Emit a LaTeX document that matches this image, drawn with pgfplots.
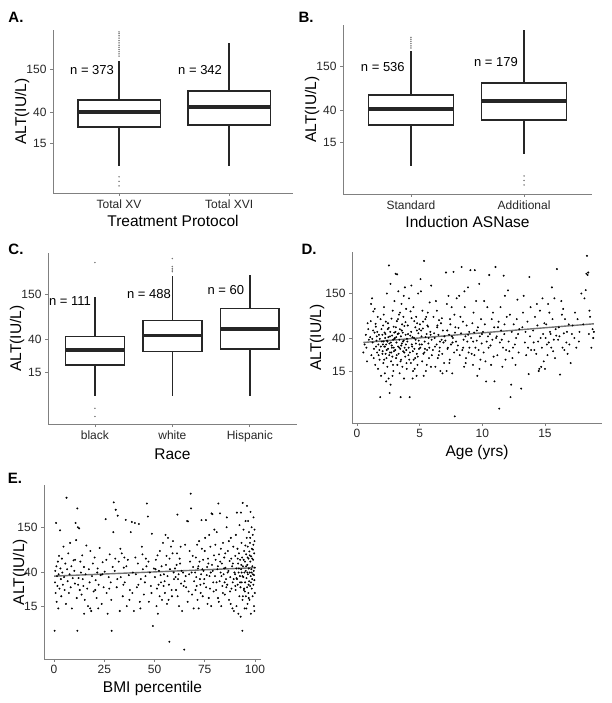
\documentclass[border=0pt]{standalone}
\usepackage{fontspec}
\setmainfont{Liberation Sans}
\usepackage{pgfplots}
\pgfplotsset{compat=1.18}
\usepgfplotslibrary{statistics}
\begin{document}
\begin{tikzpicture}
\useasboundingbox (0,0) rectangle (611pt,-703pt);
% ---------- A (y in ln ALT) ----------
\begin{axis}[scale only axis, anchor=south west, at={(53pt,-193pt)}, width=240pt, height=163pt,
  axis x line=bottom, axis y line=left,
  axis line style={-, draw=black!50, line width=0.9pt},
  ymin=1.16315, ymax=6.24416, ytick={2.70805,3.68888,5.01064}, yticklabels={15,40,150},
  tick style={draw=black!50, line width=0.8pt}, tick align=outside, major tick length=3pt,
  tick label style={font=\fontsize{12}{14}\selectfont, text=black!85},
  label style={font=\fontsize{15.5}{18}\selectfont},
  ylabel style={at={([xshift=-31pt]axis description cs:0,0.5)}, anchor=center},
  xmin=0.4, xmax=2.58, xtick={1,2}, xticklabels={Total XV, Total XVI},
  xlabel={Treatment Protocol}, ylabel={ALT(IU/L)},
  boxplot/draw direction=y,
  boxplot/every median/.style={line width=3.6pt}]
\addplot[draw=black!85, line width=1.6pt, fill=white, mark=*, mark size=0.6pt,
  mark options={draw=black!55, fill=black!55, line width=0.2pt},
  boxplot prepared={draw position=1, lower whisker=2.015, lower quartile=3.219, median=3.689, upper quartile=4.060, upper whisker=5.283, box extend=0.75, whisker extend=0}]
  table[row sep=\\, y index=0] {data\\ 5.429\\ 5.501\\ 5.568\\ 5.635\\ 5.704\\ 5.768\\ 5.843\\ 5.914\\ 5.991\\ 6.064\\ 6.131\\ 6.184\\ 1.668\\ 1.526\\ 1.386\\};
\addplot[draw=black!85, line width=1.6pt, fill=white, mark=*, mark size=0.6pt,
  boxplot prepared={draw position=2, lower whisker=2.015, lower quartile=3.285, median=3.846, upper quartile=4.344, upper whisker=5.838, box extend=0.75, whisker extend=0}]
  coordinates {};
\node[font=\fontsize{13}{15}\selectfont] at (axis cs:0.755,4.997) {n = 373};
\node[font=\fontsize{13}{15}\selectfont] at (axis cs:1.736,4.997) {n = 342};
\end{axis}
% ---------- B ----------
\begin{axis}[scale only axis, anchor=south west, at={(343pt,-194pt)}, width=249pt, height=169pt,
  axis x line=bottom, axis y line=left,
  axis line style={-, draw=black!50, line width=0.9pt},
  ymin=1.16315, ymax=6.24416, ytick={2.70805,3.68888,5.01064}, yticklabels={15,40,150},
  tick style={draw=black!50, line width=0.8pt}, tick align=outside, major tick length=3pt,
  tick label style={font=\fontsize{12}{14}\selectfont, text=black!85},
  label style={font=\fontsize{15.5}{18}\selectfont},
  ylabel style={at={([xshift=-31pt]axis description cs:0,0.5)}, anchor=center},
  xmin=0.4, xmax=2.6, xtick={1,2}, xticklabels={Standard, Additional},
  xlabel={Induction ASNase}, ylabel={ALT(IU/L)},
  boxplot/draw direction=y,
  boxplot/every median/.style={line width=3.6pt}]
\addplot[draw=black!85, line width=1.6pt, fill=white, mark=*, mark size=0.6pt,
  mark options={draw=black!55, fill=black!55, line width=0.2pt},
  boxplot prepared={draw position=1, lower whisker=2.015, lower quartile=3.239, median=3.718, upper quartile=4.138, upper whisker=5.455, box extend=0.75, whisker extend=0}]
  table[row sep=\\, y index=0] {data\\ 5.553\\ 5.617\\ 5.687\\ 5.753\\ 5.814\\ 5.872\\};
\addplot[draw=black!85, line width=1.6pt, fill=white, mark=*, mark size=0.6pt,
  mark options={draw=black!55, fill=black!55, line width=0.2pt},
  boxplot prepared={draw position=2, lower whisker=2.370, lower quartile=3.391, median=3.951, upper quartile=4.500, upper whisker=6.080, box extend=0.75, whisker extend=0}]
  table[row sep=\\, y index=0] {data\\ 1.705\\ 1.569\\ 1.435\\};
\node[font=\fontsize{13}{15}\selectfont] at (axis cs:0.752,4.977) {n = 536};
\node[font=\fontsize{13}{15}\selectfont] at (axis cs:1.752,5.124) {n = 179};
\end{axis}
% ---------- C ----------
\begin{axis}[scale only axis, anchor=south west, at={(48pt,-424pt)}, width=249pt, height=171pt,
  axis x line=bottom, axis y line=left,
  axis line style={-, draw=black!50, line width=0.9pt},
  ymin=1.16315, ymax=6.24416, ytick={2.70805,3.68888,5.01064}, yticklabels={15,40,150},
  tick style={draw=black!50, line width=0.8pt}, tick align=outside, major tick length=3pt,
  tick label style={font=\fontsize{12}{14}\selectfont, text=black!85},
  label style={font=\fontsize{15.5}{18}\selectfont},
  ylabel style={at={([xshift=-31pt]axis description cs:0,0.5)}, anchor=center},
  xmin=0.394, xmax=3.61, xtick={1,2,3}, xticklabels={black, white, Hispanic},
  xlabel={Race}, ylabel={ALT(IU/L)},
  boxplot/draw direction=y,
  boxplot/every median/.style={line width=3.6pt}]
\addplot[draw=black!85, line width=1.6pt, fill=white, mark=*, mark size=0.6pt,
  mark options={draw=black!55, fill=black!55, line width=0.2pt},
  boxplot prepared={draw position=1, lower whisker=2.001, lower quartile=2.912, median=3.367, upper quartile=3.759, upper whisker=4.934, box extend=0.76, whisker extend=0}]
  table[row sep=\\, y index=0] {data\\ 5.961\\ 1.629\\ 1.386\\};
\addplot[draw=black!85, line width=1.6pt, fill=white, mark=*, mark size=0.6pt,
  mark options={draw=black!55, fill=black!55, line width=0.2pt},
  boxplot prepared={draw position=2, lower whisker=2.001, lower quartile=3.321, median=3.789, upper quartile=4.234, upper whisker=5.553, box extend=0.76, whisker extend=0}]
  table[row sep=\\, y index=0] {data\\ 5.690\\ 5.737\\ 5.784\\ 5.843\\ 6.080\\};
\addplot[draw=black!85, line width=1.6pt, fill=white, mark=*, mark size=0.6pt,
  boxplot prepared={draw position=3, lower whisker=2.001, lower quartile=3.391, median=3.989, upper quartile=4.595, upper whisker=5.583, box extend=0.76, whisker extend=0}]
  coordinates {};
\node[font=\fontsize{13}{15}\selectfont] at (axis cs:0.677,4.804) {n = 111};
\node[font=\fontsize{13}{15}\selectfont] at (axis cs:1.697,5.037) {n = 488};
\node[font=\fontsize{13}{15}\selectfont] at (axis cs:2.69,5.136) {n = 60};
\end{axis}
% ---------- D ----------
\begin{axis}[scale only axis, anchor=south west, at={(352pt,-423pt)}, width=250pt, height=171pt,
  axis x line=bottom, axis y line=left,
  axis line style={-, draw=black!50, line width=0.9pt},
  ymode=log, ymin=3.2, ymax=515, ytick={15,40,150}, yticklabels={15,40,150}, yminorticks=false,
  tick style={draw=black!50, line width=0.8pt}, tick align=outside, major tick length=3pt,
  tick label style={font=\fontsize{12}{14}\selectfont, text=black!85},
  label style={font=\fontsize{15.5}{18}\selectfont},
  ylabel style={at={([xshift=-35pt]axis description cs:0,0.5)}, anchor=center},
  /pgf/number format/assume math mode=true,
  xmin=-0.4, xmax=19.55, xtick={0,5,10,15},
  xlabel={Age (yrs)}, ylabel={ALT(IU/L)}]
\addplot[only marks, mark=*, mark size=0.75pt, draw=black, fill=black] coordinates {
(0.5,26) (0.6,33) (0.7,44) (0.8,20) (0.9,52) (0.95,38) (0.75,30) (0.85,62)
(1.05,41) (1.1,66) (1.15,24) (1.2,130) (1.25,35) (1.3,88) (1.35,29) (1.4,47) (1.45,18) (1.5,56) (1.55,37) (1.6,26) (1.65,75) (1.7,33) (1.75,44) (1.8,21) (1.85,6.9) (1.9,31) (1.95,52) (1.12,110) (1.22,39) (1.33,22) (1.48,61) (1.58,42) (1.68,16) (1.78,28) (1.88,70) (1.98,36) (1.42,95) (1.62,48) (1.72,24) (1.82,39) (1.92,13) (1.52,31) (1.28,50)
(2.02,44) (2.05,27) (2.08,58) (2.1,19) (2.12,36) (2.15,100) (2.18,31) (2.2,47) (2.22,14) (2.25,40) (2.28,25) (2.3,65) (2.32,33) (2.35,22) (2.38,150) (2.4,37) (2.42,17) (2.45,52) (2.48,29) (2.5,41) (2.52,12) (2.55,345) (2.58,34) (2.6,7.8) (2.62,26) (2.65,48) (2.68,10) (2.7,35) (2.72,20) (2.75,71) (2.78,30) (2.8,43) (2.82,23) (2.85,90) (2.88,38) (2.9,15) (2.92,56) (2.95,27) (2.98,39) (2.07,33) (2.17,21) (2.27,45) (2.37,28) (2.47,62) (2.57,24) (2.67,200) (2.77,32) (2.87,18) (2.97,47) (2.13,80) (2.33,11) (2.53,54) (2.73,26) (2.93,30) (2.43,36) (2.63,42) (2.83,13) (2.23,31) (2.03,25) (2.99,120)
(3.02,40) (3.05,28) (3.08,270) (3.1,55) (3.12,22) (3.15,35) (3.18,66) (3.2,265) (3.22,18) (3.25,45) (3.28,31) (3.3,160) (3.32,25) (3.35,80) (3.38,38) (3.4,14) (3.42,52) (3.45,29) (3.48,6.9) (3.5,42) (3.52,21) (3.55,110) (3.58,34) (3.6,60) (3.62,17) (3.65,47) (3.68,27) (3.7,75) (3.72,37) (3.75,12) (3.78,57) (3.8,30) (3.82,180) (3.85,23) (3.88,44) (3.9,33) (3.92,95) (3.95,19) (3.98,39) (3.07,48) (3.17,24) (3.27,70) (3.37,30) (3.47,20) (3.57,50) (3.67,36) (3.77,26) (3.87,64) (3.97,16) (3.13,41) (3.33,46) (3.53,32) (3.73,140) (3.93,28) (3.43,85)
(4.02,36) (4.05,58) (4.1,24) (4.15,130) (4.2,6.9) (4.25,43) (4.3,19) (4.35,72) (4.4,31) (4.45,27) (4.5,100) (4.55,40) (4.6,16) (4.65,55) (4.7,34) (4.75,13) (4.8,62) (4.85,23) (4.9,46) (4.95,29) (4.07,45) (4.17,21) (4.27,88) (4.37,33) (4.47,15) (4.57,66) (4.67,38) (4.77,25) (4.87,150) (4.97,52) (4.12,30) (4.32,48) (4.52,21) (4.72,75) (4.92,37) (4.22,26) (4.42,41) (4.82,18) (4.99,33) (4.34,190) (4.58,29) (4.78,50) (4.44,12) (4.64,22)
(5.02,60) (5.05,30) (5.1,160) (5.15,42) (5.2,20) (5.25,53) (5.3,25) (5.35,395) (5.4,36) (5.45,70) (5.5,15) (5.55,45) (5.6,28) (5.65,85) (5.7,34) (5.75,22) (5.8,115) (5.85,48) (5.9,17) (5.95,38) (5.07,230) (5.17,33) (5.27,65) (5.37,26) (5.47,41) (5.57,18) (5.67,56) (5.77,30) (5.87,44) (5.97,24) (5.12,50) (5.32,13) (5.52,75) (5.72,40) (5.92,190) (5.22,90) (5.42,29) (5.62,58)
(6.05,28) (6.1,75) (6.2,40) (6.25,17) (6.3,120) (6.35,33) (6.4,55) (6.45,22) (6.5,44) (6.55,68) (6.6,30) (6.65,15) (6.7,62) (6.75,38) (6.8,25) (6.85,50) (6.9,35) (6.95,19) (6.15,46) (6.37,90) (6.57,27) (6.77,72) (6.97,42) (6.22,31) (6.42,58) (6.62,36) (6.82,14) (6.52,24)
(7.05,37) (7.1,280) (7.15,15) (7.2,50) (7.25,30) (7.3,140) (7.35,44) (7.4,21) (7.45,60) (7.5,33) (7.55,100) (7.6,14) (7.65,40) (7.7,285) (7.75,26) (7.8,3.9) (7.85,55) (7.9,36) (7.95,130) (7.22,29) (7.42,70) (7.62,35) (7.82,47) (7.37,19) (7.57,42) (7.77,80) (7.97,28) (7.17,110)
(8.05,32) (8.1,54) (8.15,140) (8.2,24) (8.3,46) (8.35,330) (8.4,28) (8.45,65) (8.5,38) (8.55,17) (8.6,100) (8.65,42) (8.7,22) (8.75,58) (8.8,36) (8.85,180) (8.9,26) (8.95,48) (8.25,75) (8.47,30) (8.67,19) (8.87,44) (8.57,160) (8.97,30)
(9.05,300) (9.1,40) (9.15,25) (9.2,62) (9.25,18) (9.3,85) (9.35,47) (9.4,300) (9.45,30) (9.5,120) (9.55,37) (9.6,13) (9.65,55) (9.7,28) (9.75,200) (9.8,42) (9.85,21) (9.9,70) (9.95,34) (9.37,24) (9.57,50) (9.77,16) (9.97,45) (9.27,36)
(10.05,48) (10.1,26) (10.2,60) (10.3,11) (10.35,36) (10.4,100) (10.5,30) (10.55,260) (10.6,45) (10.7,18) (10.75,70) (10.8,38) (10.9,23) (10.95,55) (10.15,120) (10.45,42) (10.65,32) (10.85,85) (10.25,20) (10.97,11)
(11.05,330) (11.1,40) (11.2,24) (11.3,65) (11.35,4.9) (11.4,35) (11.5,50) (11.6,17) (11.65,30) (11.7,255) (11.75,45) (11.8,140) (11.9,28) (11.95,75) (11.25,55) (11.45,100) (11.55,38) (11.85,21) (11.15,42) (11.77,60)
(12.05,165) (12.1,36) (12.15,27) (12.2,80) (12.25,6.9) (12.3,10) (12.35,48) (12.4,22) (12.5,60) (12.6,33) (12.7,40) (12.8,125) (12.9,26) (12.95,52) (12.45,30) (12.65,18) (12.85,45) (12.75,70)
(13.1,8.9) (13.2,55) (13.3,140) (13.4,35) (13.5,24) (13.6,65) (13.7,13.7) (13.75,245) (13.8,42) (13.9,28) (13.25,85) (13.45,48) (13.65,30) (13.85,100)
(14.05,50) (14.1,35) (14.2,75) (14.3,25) (14.4,58) (14.5,15) (14.55,16) (14.6,90) (14.65,40) (14.7,17) (14.75,30) (14.8,130) (14.85,45) (14.9,20) (14.95,62) (14.35,110) (14.15,28) (14.45,36)
(15.05,40) (15.1,60) (15.2,24) (15.25,110) (15.3,35) (15.4,48) (15.5,30) (15.6,70) (15.7,38) (15.75,130) (15.8,22) (15.85,52) (15.9,43) (15.95,310) (15.15,33) (15.35,85) (15.55,180) (15.65,27) (15.45,45) (15.0,16)
(16.05,38) (16.1,55) (16.2,13.5) (16.3,120) (16.4,30) (16.5,46) (16.6,70) (16.7,35) (16.8,25) (16.9,60) (16.15,42) (16.35,80) (16.55,28) (16.75,48) (16.95,33) (16.45,95)
(17.05,19) (17.2,58) (17.35,40) (17.5,30) (17.6,70) (17.75,48) (17.9,150) (17.4,85) (17.7,36) (17.15,45)
(18.05,60) (18.15,130) (18.25,166) (18.3,270) (18.35,460) (18.4,260) (18.45,280) (18.5,45) (18.6,75) (18.7,30) (18.8,52) (18.85,40) (18.9,48) (18.55,90)
};
\addplot[draw=black!55, line width=1.4pt, no marks] coordinates {(0.5,35) (18.9,61)};
\end{axis}
% ---------- E ----------
\begin{axis}[scale only axis, anchor=south west, at={(44pt,-659pt)}, width=217pt, height=174pt,
  axis x line=bottom, axis y line=left,
  axis line style={-, draw=black!50, line width=0.9pt},
  ymode=log, ymin=3.2, ymax=515, ytick={15,40,150}, yticklabels={15,40,150}, yminorticks=false,
  tick style={draw=black!50, line width=0.8pt}, tick align=outside, major tick length=3pt,
  tick label style={font=\fontsize{12}{14}\selectfont, text=black!85},
  label style={font=\fontsize{15.5}{18}\selectfont},
  ylabel style={at={([xshift=-24pt]axis description cs:0,0.5)}, anchor=center},
  /pgf/number format/assume math mode=true,
  xmin=-5, xmax=103, xtick={0,25,50,75,100},
  xlabel={BMI percentile}, ylabel={ALT(IU/L)}]
\addplot[only marks, mark=*, mark size=0.75pt, draw=black, fill=black] coordinates {
(0.3,7.3) (0.5,30) (0.6,42) (0.8,22) (1.0,170) (1.2,48) (1.3,17) (1.5,36) (1.7,27) (1.9,55) (2.1,14) (2.3,38) (2.5,65) (2.7,25) (3.0,137) (3.2,45) (3.4,33) (3.6,20) (3.9,60) (4.1,40) (4.4,28) (4.7,85) (5.0,35) (5.3,24) (5.6,52) (5.9,16) (6.2,355) (6.5,44) (6.8,31) (7.1,70) (7.4,22) (7.7,38) (8.0,95) (8.3,26) (8.6,48) (8.9,14) (9.3,34) (9.7,57)
(10.1,42) (10.4,29) (10.7,170) (11.0,103) (11.3,19) (11.6,260) (11.6,7.3) (11.9,150) (12.2,34) (12.5,145) (12.8,24) (13.1,55) (13.4,40) (13.7,21) (14.0,66) (14.3,33) (14.6,27) (14.9,47) (15.3,18) (15.7,38) (16.1,88) (16.5,25) (16.9,15) (17.3,44) (17.7,30) (18.1,75) (18.5,13) (18.9,36) (19.3,52) (19.7,23) (10.5,58) (12.0,28) (15.0,12) (18.0,14)
(20.2,62) (20.7,32) (21.2,19) (21.7,45) (22.2,28) (22.7,82) (23.2,37) (23.7,16) (24.2,54) (24.7,26) (25.2,41) (25.7,190) (26.2,22) (26.7,12) (27.2,35) (27.7,68) (28.2,30) (28.7,7.3) (29.2,47) (29.7,310) (20.5,24) (22.0,14) (24.0,38) (26.0,58) (27.5,25) (28.5,18) (29.5,130) (21.5,40)
(30.2,42) (30.7,250) (31.2,26) (31.7,210) (32.2,55) (32.7,13) (33.2,35) (33.7,70) (34.2,20) (34.7,46) (35.2,30) (35.7,186) (36.2,15) (36.7,58) (37.2,37) (37.7,24) (38.2,130) (38.7,175) (39.2,40) (39.7,13) (30.5,60) (31.5,33) (33.0,80) (34.5,28) (36.0,48) (37.5,18) (39.0,22) (35.0,62)
(40.2,170) (40.7,38) (41.2,26) (41.7,52) (42.2,165) (42.7,17) (43.2,33) (43.7,85) (44.2,44) (44.7,21) (45.2,30) (45.7,60) (46.2,300) (46.7,205) (47.2,17) (47.7,40) (48.2,27) (48.7,124) (49.2,8.4) (49.7,45) (40.5,62) (42.0,28) (44.0,68) (45.5,36) (47.0,55) (48.5,22) (43.0,14) (46.0,48)
(50.2,35) (50.7,58) (51.2,25) (51.7,12) (52.2,42) (52.7,75) (53.2,30) (53.7,18) (54.2,95) (54.7,38) (55.2,22) (55.7,50) (56.2,16) (56.7,110) (57.2,28) (57.4,5.3) (57.7,44) (58.2,85) (58.7,20) (59.2,100) (59.7,33) (50.5,44) (51.5,66) (52.5,20) (53.5,48) (54.5,27) (55.5,120) (56.5,36) (57.5,60) (58.5,24) (59.5,40) (51.0,15) (53.0,37) (55.0,31) (57.0,18) (59.0,70) (52.0,28) (56.0,65)
(60.2,45) (60.7,24) (61.2,70) (61.4,217) (61.7,33) (62.2,15) (62.7,52) (63.2,29) (63.7,13) (64.2,40) (64.8,4.2) (65.2,90) (65.7,26) (66.2,180) (66.7,178) (67.2,38) (67.7,55) (68.0,400) (68.2,260) (68.7,21) (69.2,47) (69.7,31) (60.5,35) (61.5,20) (62.5,60) (63.5,42) (64.5,27) (65.5,36) (66.5,17) (67.5,75) (68.5,40) (69.5,14) (61.0,50) (63.0,85) (65.0,31) (67.0,23) (69.0,65) (62.0,38)
(70.2,40) (70.6,62) (71.0,27) (71.4,18) (71.8,48) (72.2,100) (72.6,33) (73.0,22) (73.4,185) (73.8,44) (74.2,58) (74.6,29) (75.0,75) (75.6,185) (76.0,37) (76.4,16) (76.8,52) (77.2,120) (77.6,25) (78.0,40) (78.4,225) (78.8,220) (79.2,30) (79.6,66) (70.4,24) (70.8,35) (71.2,90) (71.6,45) (72.0,14) (72.4,55) (72.8,28) (73.2,38) (73.6,80) (74.0,20) (74.4,42) (74.8,33) (75.2,110) (75.7,26) (76.2,47) (76.6,60) (77.0,19) (77.4,36) (77.8,85) (78.2,15) (78.6,50) (79.0,42) (79.4,23) (79.8,140)
(80.1,36) (80.4,58) (80.7,24) (81.0,130) (81.3,44) (81.6,19) (81.8,300) (82.1,68) (82.4,31) (82.6,225) (82.9,40) (83.2,15) (83.5,52) (83.8,27) (84.1,95) (84.4,38) (84.7,62) (85.0,21) (85.3,46) (85.6,33) (85.9,150) (86.2,28) (86.5,75) (86.8,42) (87.1,18) (87.4,56) (87.7,35) (88.0,110) (88.3,25) (88.6,48) (88.9,30) (89.2,85) (89.5,13) (89.8,40) (80.3,90) (80.9,30) (81.5,48) (82.0,17) (82.7,55) (83.3,36) (84.0,22) (84.6,45) (85.2,70) (85.8,26) (86.4,40) (87.0,100) (87.6,23) (88.2,60) (88.8,14) (89.4,33) (86.0,200) (87.9,16) (89.0,52) (83.0,80) (84.9,30)
(90.1,38) (90.2,65) (90.4,24) (90.5,120) (90.7,45) (90.8,15) (91.0,230) (91.1,33) (91.3,80) (91.4,28) (91.6,52) (91.7,12) (91.9,40) (92.0,70) (92.2,20) (92.3,160) (92.5,36) (92.6,58) (92.8,26) (92.9,11) (93.0,230) (93.1,44) (93.3,95) (93.4,30) (93.6,62) (93.7,7.3) (93.8,18) (93.9,305) (94.0,48) (94.2,35) (94.3,140) (94.5,24) (94.6,75) (94.7,40) (94.9,14) (95.0,55) (95.1,30) (95.3,180) (95.4,42) (95.5,20) (95.6,68) (95.8,34) (95.9,110) (96.0,280) (96.1,26) (96.2,50) (96.3,16) (96.4,85) (96.5,38) (96.6,180) (96.7,22) (96.8,60) (96.9,45) (97.0,130) (97.1,31) (97.2,74) (97.3,18) (97.4,40) (97.5,95) (97.6,27) (97.7,55) (97.8,235) (97.9,36) (98.0,12) (98.1,64) (98.2,44) (98.3,150) (98.4,25) (98.5,80) (98.6,33) (98.7,48) (98.8,20) (98.9,120) (99.0,38) (99.1,58) (99.2,28) (99.3,200) (99.4,42) (99.5,15) (99.6,70) (99.7,32) (99.8,100) (99.9,46) (99.9,22) (99.8,140) (99.5,37) (99.2,90) (98.6,60) (98.0,30) (97.4,66) (96.8,28) (96.2,40) (95.6,48) (95.0,23) (94.4,58) (93.8,36) (93.2,50) (92.6,30) (92.0,45) (91.4,60) (90.8,34) (90.2,27) (99.7,13) (99.0,78) (98.3,40) (97.6,110) (96.9,19) (96.3,62) (95.7,14) (95.2,88) (94.6,25) (94.0,20) (93.4,40)
};
\addplot[draw=black!55, line width=1.4pt, no marks] coordinates {(0,36) (99.5,46)};
\end{axis}
% ---------- panel letters ----------
\node[font=\bfseries\fontsize{15}{18}\selectfont] at (16pt,-17pt) {A.};
\node[font=\bfseries\fontsize{15}{18}\selectfont] at (306pt,-17pt) {B.};
\node[font=\bfseries\fontsize{15}{18}\selectfont] at (16pt,-249pt) {C.};
\node[font=\bfseries\fontsize{15}{18}\selectfont] at (309pt,-249pt) {D.};
\node[font=\bfseries\fontsize{15}{18}\selectfont] at (15pt,-478pt) {E.};
\end{tikzpicture}
\end{document}
